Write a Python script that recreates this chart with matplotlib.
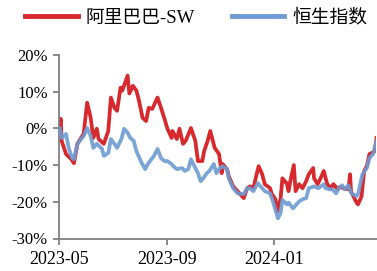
import matplotlib
matplotlib.use("Agg")
import matplotlib.pyplot as plt
import pandas as pd

# ---- data (cumulative return, %) ----
red_dates = ["2023-05-02","2023-05-03","2023-05-04","2023-05-09","2023-05-15","2023-05-18","2023-05-22",
             "2023-05-26","2023-05-29","2023-06-02","2023-06-06","2023-06-09","2023-06-13","2023-06-15",
             "2023-06-21","2023-06-26","2023-06-29","2023-07-03","2023-07-06","2023-07-10","2023-07-12",
             "2023-07-18","2023-07-20","2023-07-24","2023-07-28","2023-07-31","2023-08-04","2023-08-08",
             "2023-08-11","2023-08-15","2023-08-21","2023-08-25","2023-08-29","2023-09-01","2023-09-06",
             "2023-09-07","2023-09-12","2023-09-15","2023-09-19","2023-09-22","2023-09-28","2023-10-03",
             "2023-10-04","2023-10-06","2023-10-11","2023-10-13","2023-10-17","2023-10-20","2023-10-25",
             "2023-10-30","2023-11-02","2023-11-03","2023-11-08","2023-11-10","2023-11-15","2023-11-20",
             "2023-11-27","2023-12-01","2023-12-04","2023-12-08","2023-12-12","2023-12-14","2023-12-18",
             "2023-12-21","2023-12-27","2023-12-29","2024-01-02","2024-01-04","2024-01-08","2024-01-10",
             "2024-01-15","2024-01-17","2024-01-19","2024-01-23","2024-01-25","2024-01-29","2024-02-02",
             "2024-02-06","2024-02-09","2024-02-14","2024-02-15","2024-02-19","2024-02-22","2024-02-26",
             "2024-03-01","2024-03-05","2024-03-08","2024-03-13","2024-03-15","2024-03-20","2024-03-25",
             "2024-03-27","2024-03-28","2024-04-03","2024-04-05","2024-04-09","2024-04-12","2024-04-15",
             "2024-04-18","2024-04-22","2024-04-24","2024-04-26"]
red_values = [0.5, 2.6, -3.4, -7.0, -8.4, -9.5, -4.2,
              -2.6, -1.5, 7.0, 2.9, -2.6, -0.1, -2.9,
              -4.2, -0.7, 8.4, 5.6, 4.8, 11.1, 10.3,
              14.4, 9.5, 11.6, 10.3, 7.5, 2.9, 2.0,
              5.6, 5.3, 8.4, 5.6, 2.6, 0.1, -2.6,
              -0.7, -2.9, -0.1, -4.2, -3.4, 0.1, -3.4,
              -5.3, -8.9, -8.9, -6.2, -3.4, -0.7, -5.3,
              -7.0, -12.2, -9.7, -11.1, -13.0, -15.8, -17.1,
              -19.0, -16.3, -15.8, -16.3, -12.2, -10.3, -12.5,
              -15.2, -16.3, -17.9, -19.3, -22.6, -19.0, -13.6,
              -15.0, -17.1, -14.4, -10.0, -17.1, -15.2, -16.3,
              -14.4, -12.5, -10.8, -13.6, -15.2, -13.8, -11.6,
              -15.2, -16.3, -15.2, -16.6, -16.0, -16.3, -16.6,
              -12.5, -17.1, -20.1, -20.7, -18.5, -11.6, -10.3,
              -7.0, -6.5, -6.2, -2.6]

blue_dates = ["2023-05-02","2023-05-04","2023-05-09","2023-05-12","2023-05-16","2023-05-18","2023-05-22",
              "2023-05-26","2023-05-29","2023-06-02","2023-06-06","2023-06-09","2023-06-13","2023-06-19",
              "2023-06-21","2023-06-26","2023-06-29","2023-07-03","2023-07-06","2023-07-11","2023-07-14",
              "2023-07-18","2023-07-21","2023-07-25","2023-07-28","2023-08-02","2023-08-07","2023-08-10",
              "2023-08-14","2023-08-17","2023-08-21","2023-08-25","2023-08-29","2023-09-01","2023-09-06",
              "2023-09-08","2023-09-12","2023-09-18","2023-09-21","2023-09-25","2023-09-28","2023-10-03",
              "2023-10-06","2023-10-09","2023-10-12","2023-10-16","2023-10-19","2023-10-24","2023-10-27",
              "2023-10-31","2023-11-03","2023-11-08","2023-11-10","2023-11-15","2023-11-20","2023-11-27",
              "2023-12-01","2023-12-04","2023-12-08","2023-12-13","2023-12-18","2023-12-21","2023-12-27",
              "2023-12-29","2024-01-02","2024-01-05","2024-01-08","2024-01-10","2024-01-15","2024-01-17",
              "2024-01-22","2024-01-25","2024-01-29","2024-02-02","2024-02-06","2024-02-09","2024-02-15",
              "2024-02-20","2024-02-26","2024-02-28","2024-03-04","2024-03-07","2024-03-11","2024-03-14",
              "2024-03-18","2024-03-21","2024-03-25","2024-03-28","2024-04-03","2024-04-05","2024-04-10",
              "2024-04-15","2024-04-18","2024-04-22","2024-04-26"]
blue_values = [0.0, -2.6, -1.5, -5.3, -8.1, -8.4, -4.2,
               -2.9, -2.1, 0.1, -2.1, -5.3, -4.2, -5.6,
               -7.5, -6.7, -2.9, -4.2, -5.3, -2.9, -0.1,
               -1.2, -2.6, -3.4, -6.2, -8.9, -11.1, -9.7,
               -8.4, -7.5, -5.6, -8.1, -8.9, -8.9, -9.7,
               -10.3, -11.1, -10.8, -11.6, -11.1, -8.4, -10.8,
               -12.2, -14.4, -13.6, -12.2, -11.6, -9.7, -12.2,
               -10.8, -10.3, -11.1, -13.6, -16.3, -17.7, -17.9,
               -16.3, -16.3, -17.1, -14.9, -16.3, -17.1, -17.7,
               -19.0, -22.1, -24.5, -23.0, -19.5, -20.7, -20.2,
               -21.8, -21.0, -19.9, -19.3, -19.0, -16.3, -15.8,
               -16.3, -15.2, -16.3, -16.6, -16.6, -17.7, -16.3,
               -15.5, -16.6, -15.5, -17.5, -18.5, -17.9, -12.5,
               -10.8, -8.1, -7.0, -3.4]

series_names = ["阿里巴巴-SW", "恒生指数"]
y_ticks = [-30, -20, -10, 0, 10, 20]
x_tick_dates = ["2023-05-01", "2023-09-01", "2024-01-01"]
x_tick_labels = ["2023-05", "2023-09", "2024-01"]

RED = "#D7292E"
BLUE = "#6E9BD3"
GRAY = "#808080"

fig = plt.figure(figsize=(3.77, 2.71), dpi=100)
ax = fig.add_axes([59/377, 32.5/271, 317.5/377, 183.5/271])

ax.plot(pd.to_datetime(red_dates), red_values, color=RED, lw=2.7, label=series_names[0],
        solid_joinstyle="round", zorder=2)
ax.plot(pd.to_datetime(blue_dates), blue_values, color=BLUE, lw=2.7, alpha=0.9,
        label=series_names[1], solid_joinstyle="round", zorder=3)

ax.set_ylim(-30, 20)
ax.set_yticks(y_ticks)
ax.set_yticklabels([f"{v}%" for v in y_ticks], fontsize=12, family="Liberation Serif")
ax.set_xlim(pd.Timestamp("2023-05-01"), pd.Timestamp("2024-04-26"))
ax.set_xticks(pd.to_datetime(x_tick_dates))
ax.set_xticklabels(x_tick_labels, fontsize=13, family="Liberation Serif")

for s in ["top", "right"]:
    ax.spines[s].set_visible(False)
for s in ["left", "bottom"]:
    ax.spines[s].set_color(GRAY)
    ax.spines[s].set_linewidth(1.3)
ax.tick_params(axis="both", direction="out", length=4, width=1.3, color=GRAY, pad=4)
ax.tick_params(axis="x", pad=5)

fig.legend(loc="center", bbox_to_anchor=(0.52, 1 - 18/271), ncol=2, frameon=False,
           prop={"family": ["Liberation Serif", "Noto Sans CJK SC"], "size": 13.5},
           handlelength=2.8, handletextpad=0.4, columnspacing=2.0, borderaxespad=0)
for line in fig.legends[0].get_lines():
    line.set_linewidth(3.5)
    line.set_alpha(1)

fig.savefig("out.png", dpi=100)
